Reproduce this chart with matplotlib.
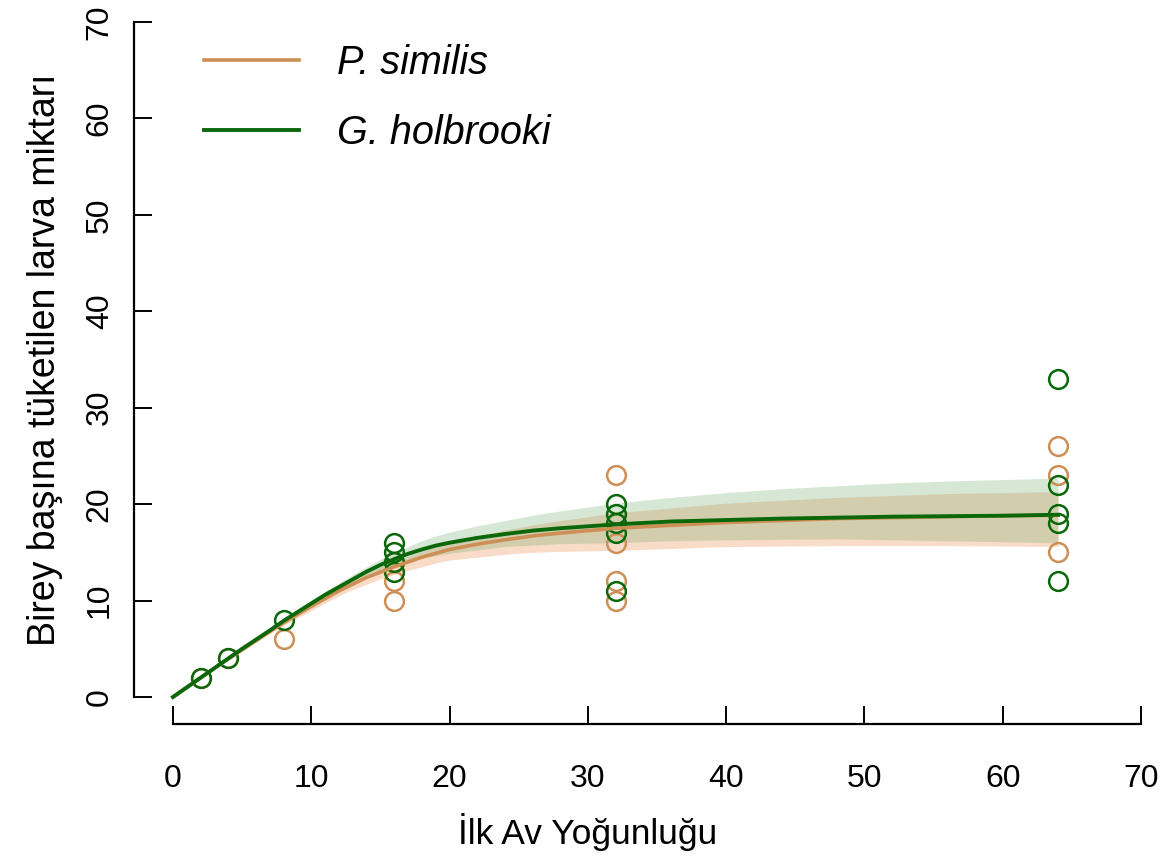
import numpy as np
import matplotlib
matplotlib.use("Agg")
import matplotlib.pyplot as plt

# observed consumption per individual at each initial prey density
ps_x = [2, 4, 8, 16, 16, 16, 32, 32, 32, 32, 64, 64, 64]
ps_y = [2, 4, 6, 12, 10, 14, 23, 16, 12, 10, 26, 23, 15]
gh_x = [2, 4, 8, 16, 16, 16, 16, 32, 32, 32, 32, 32, 64, 64, 64, 64, 64]
gh_y = [2, 4, 8, 16, 15, 14, 13, 20, 19, 18, 17, 11, 33, 22, 19, 18, 12]

# fitted curves with confidence bands
fit_x = list(range(0, 21)) + [22, 24, 26, 28, 30, 32, 36, 40, 44, 48, 52, 56, 60, 64]
ps_fit = [0, 1, 2, 2.98, 3.95, 4.9, 5.85, 6.8, 7.7, 8.55, 9.4, 10.2, 11.0, 11.7, 12.4,
          12.95, 13.5, 14.0, 14.5, 14.9, 15.3,
          15.85, 16.3, 16.7, 17.0, 17.25, 17.5,
          17.8, 18.1, 18.3, 18.5, 18.6, 18.7, 18.8, 18.85]
ps_lo = [0, 0.98, 1.95, 2.9, 3.85, 4.75, 5.65, 6.55, 7.4, 8.2, 8.95, 9.75, 10.5, 11.15, 11.7,
         12.25, 12.7, 13.15, 13.5, 13.9, 14.2,
         14.5, 14.8, 15.0, 15.1, 15.15, 15.2,
         15.4, 15.6, 15.65, 15.7, 15.7, 15.7, 15.65, 15.6]
ps_hi = [0, 1.02, 2.05, 3.03, 4.05, 5.05, 6.0, 7.0, 7.95, 8.9, 9.8, 10.6, 11.4, 12.15, 12.9,
         13.5, 14.1, 14.6, 15.1, 15.55, 16.0,
         16.7, 17.3, 17.85, 18.3, 18.7, 19.1,
         19.6, 20.1, 20.4, 20.7, 20.9, 21.1, 21.2, 21.3]
gh_fit = [0, 1, 2, 3, 4, 5, 5.95, 6.9, 7.9, 8.8, 9.7, 10.6, 11.4, 12.2, 13.0,
          13.7, 14.3, 14.85, 15.3, 15.7, 16.0,
          16.5, 16.9, 17.25, 17.5, 17.7, 17.9,
          18.2, 18.35, 18.5, 18.6, 18.7, 18.75, 18.8, 18.9]
gh_lo = [0, 0.99, 1.97, 2.95, 3.9, 4.85, 5.8, 6.75, 7.7, 8.55, 9.35, 10.2, 11.0, 11.7, 12.4,
         13.0, 13.6, 14.0, 14.4, 14.65, 14.9,
         15.25, 15.6, 15.75, 15.9, 15.95, 16.0,
         16.2, 16.3, 16.35, 16.4, 16.3, 16.2, 16.1, 16.0]
gh_hi = [0, 1.02, 2.03, 3.05, 4.1, 5.1, 6.1, 7.1, 8.1, 9.05, 10.0, 10.9, 11.8, 12.7, 13.5,
         14.3, 15.0, 15.6, 16.2, 16.7, 17.1,
         17.75, 18.3, 18.85, 19.3, 19.7, 20.1,
         20.7, 21.2, 21.6, 21.9, 22.2, 22.4, 22.55, 22.7]

ps_col = "#CD8F55"
gh_col = "#0A680A"
font = ["Liberation Sans", "DejaVu Sans"]

fig = plt.figure(figsize=(11.69, 8.64), dpi=100)
W, H = 1169, 864
# plot region in pixels (R style 4% padding around 0..70)
x0px, x70px = 173, 1141
y0px, y70px = 697, 22
sx = (x70px - x0px) / 70.0
sy = (y0px - y70px) / 70.0
left = x0px - 2.8 * sx
right = x0px + 72.8 * sx
bottom = y0px + 2.8 * sy
top = y0px - 72.8 * sy
ax = fig.add_axes([left / W, 1 - bottom / H, (right - left) / W, (bottom - top) / H])
ax.set_xlim(-2.8, 72.8)
ax.set_ylim(-2.8, 72.8)

ax.fill_between(fit_x, ps_lo, ps_hi, color="#EE9B62", alpha=0.35, lw=0)
ax.fill_between(fit_x, gh_lo, gh_hi, color="#5FA35F", alpha=0.25, lw=0)

ax.plot(ps_x, ps_y, "o", ms=13.5, mfc="none", mec=ps_col, mew=1.8)
ax.plot(gh_x, gh_y, "o", ms=13.5, mfc="none", mec=gh_col, mew=1.8)

ax.plot(fit_x, ps_fit, color=ps_col, lw=2.6, label="P. similis")
ax.plot(fit_x, gh_fit, color=gh_col, lw=2.8, label="G. holbrooki")

for s in ["top", "right"]:
    ax.spines[s].set_visible(False)
ax.spines["left"].set_bounds(0, 70)
ax.spines["bottom"].set_bounds(0, 70)
for s in ["left", "bottom"]:
    ax.spines[s].set_linewidth(1.6)

ticks = np.arange(0, 71, 10)
ax.set_xticks(ticks)
ax.set_yticks(ticks)
ax.tick_params(direction="in", length=13, width=1.4)
ax.tick_params(axis="x", pad=29)
ax.tick_params(axis="y", pad=14)
for lab in ax.get_xticklabels():
    lab.set_fontfamily(font)
    lab.set_fontsize(23)
for lab in ax.get_yticklabels():
    lab.set_fontfamily(font)
    lab.set_fontsize(23)
    lab.set_rotation(90)
    lab.set_va("center")

ax.set_xlabel("İlk Av Yoğunluğu", family=font, fontsize=25.5)
ax.xaxis.set_label_coords(30, -0.122, transform=ax.get_xaxis_transform())
ax.set_ylabel("Birey başına tüketilen larva miktarı", family=font, fontsize=27, labelpad=16)

leg = ax.legend(loc="upper left", bbox_to_anchor=(204 / W, 1 - 44 / H),
                bbox_transform=fig.transFigure, frameon=False,
                prop={"family": font, "style": "italic", "size": 28.5},
                handlelength=2.4, handletextpad=0.95, labelspacing=0.8,
                borderpad=0, borderaxespad=0)

fig.savefig("out.png", dpi=100)
